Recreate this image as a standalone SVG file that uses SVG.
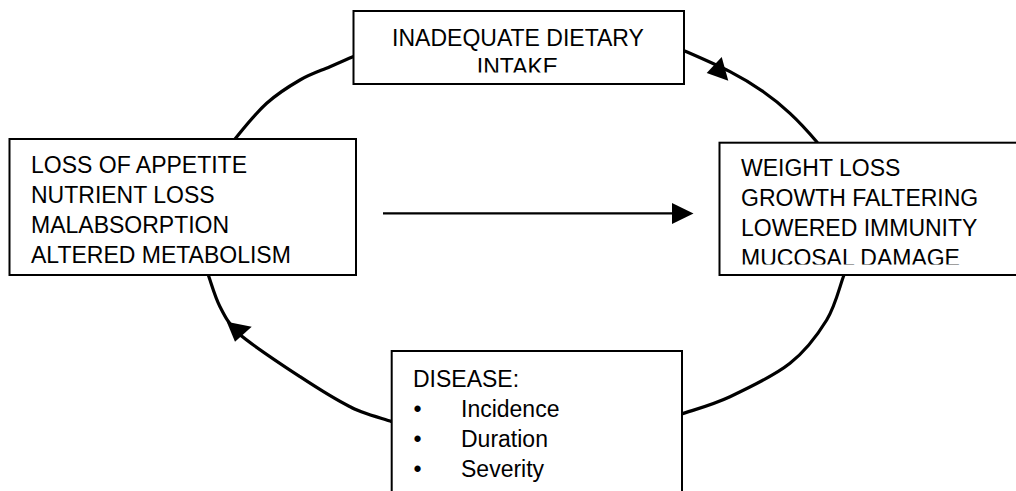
<svg xmlns="http://www.w3.org/2000/svg" width="1016" height="491" viewBox="0 0 1016 491">
<style>
.arc{fill:none;stroke:#000;stroke-width:3.2;stroke-linecap:butt}
.ln{fill:none;stroke:#000;stroke-width:2.2}
.head{fill:#000;stroke:none}
.box{fill:#fff;stroke:#000;stroke-width:2}
.t{font-family:"Liberation Sans",Arial,sans-serif;font-size:23px;fill:#000}
</style>
<defs>
<clipPath id="clipTop"><rect x="354" y="12" width="329" height="60.5"/></clipPath>
<clipPath id="clipRight"><rect x="720" y="143" width="296" height="121.5"/></clipPath>
</defs>
<rect width="1016" height="491" fill="#fff"/>
<g id="connectors">
<path class="arc" d="M228,152 L235,139 C241.45,130.9 255.9,113.1 266.7,103.3 C277.5,93.5 289.45,86.1 300,80 C310.55,73.9 321.2,70.6 330,66.7 C338.8,62.8 346.7,59.3 353,56.7 L368,51"/>
<path class="arc" d="M668,44.5 L684,50.7 C694.3,55.2 716.8,64.9 730,71.7 C743.2,78.5 753.3,84.8 763.3,91.7 C773.3,98.6 781.1,105 790,113.3 C798.9,121.6 810.4,134.25 816.7,141.7 L828,158"/>
<path class="arc" d="M850,262 L844,275 C840.1,284.7 835.7,305.3 826.7,320 C817.7,334.7 806.1,350.5 790,363.3 C773.9,376.1 748.05,388.25 730,396.7 C711.95,405.15 691.7,410.45 681.7,414 L670,418"/>
<path class="arc" d="M204,262 L208.3,275 C211,282.45 215,297 220,306.7 C225,316.4 228,323 238.3,333.3 C251.6,345 281.4,364.5 300,376.7 C318.6,388.9 334.7,399.2 350,406.7 C359.2,412.5 382.5,418.5 391.7,421.7 L405,426"/>
<polygon class="head" points="721.7,57 706.7,73 728.3,80.7"/>
<polygon class="head" points="226.7,321.7 235,341.7 251.7,326.7"/>
<line class="ln" x1="383" y1="213.3" x2="674" y2="213.3"/>
<polygon class="head" points="672,203 693.5,213.5 672,224"/>
</g>
<g id="node-intake">
<rect class="box" x="353.5" y="11" width="330.5" height="73"/>
<g clip-path="url(#clipTop)">
<text class="t" x="518" y="46" text-anchor="middle">INADEQUATE DIETARY</text>
<text class="t" x="517.5" y="75.3" text-anchor="middle">INTAKE</text>
</g>
</g>
<g id="node-appetite">
<rect class="box" x="9.5" y="139" width="346.5" height="136"/>
<text class="t" x="31" y="173">LOSS OF APPETITE</text>
<text class="t" x="31" y="203">NUTRIENT LOSS</text>
<text class="t" x="31" y="233">MALABSORPTION</text>
<text class="t" x="31" y="263">ALTERED METABOLISM</text>
</g>
<g id="node-weight">
<rect class="box" x="719.5" y="142.7" width="310" height="132.3"/>
<g clip-path="url(#clipRight)">
<text class="t" x="741" y="176">WEIGHT LOSS</text>
<text class="t" x="741" y="206">GROWTH FALTERING</text>
<text class="t" x="741" y="236">LOWERED IMMUNITY</text>
<text class="t" x="741" y="266">MUCOSAL DAMAGE</text>
</g>
</g>
<g id="node-disease">
<rect class="box" x="391.7" y="351" width="290.3" height="160"/>
<text class="t" x="413" y="387">DISEASE:</text>
<text class="t" x="413.5" y="417">•</text>
<text class="t" x="461" y="417">Incidence</text>
<text class="t" x="413.5" y="447">•</text>
<text class="t" x="461" y="447">Duration</text>
<text class="t" x="413.5" y="477">•</text>
<text class="t" x="461" y="477">Severity</text>
</g>
</svg>
